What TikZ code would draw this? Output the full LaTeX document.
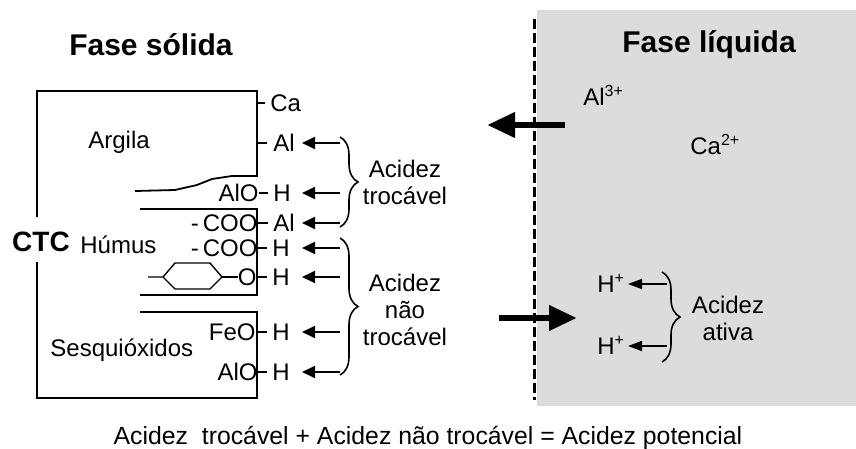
\documentclass[tikz,border=0pt]{standalone}
\usepackage{fontspec}
\setmainfont{Liberation Sans}
\usetikzlibrary{arrows.meta,decorations.pathreplacing}
\definecolor{liquidgray}{HTML}{DCDCDC}

\begin{document}
\begin{tikzpicture}[x=0.5pt,y=-0.5pt,
		every node/.style={inner sep=0pt,font=\fontsize{12}{13.5}\selectfont},
		lbl/.style={text height=8.6pt,text depth=0pt},
		phase/.style={font=\fontsize{15}{18}\selectfont\bfseries},
		wall/.style={line width=0.9pt},
		bond/.style={line width=0.9pt},
		shortarrow/.style={line width=0.9pt,-{Triangle[length=6.5pt,width=6pt]}},
		fluxarrow/.style={line width=3.4pt,-{Triangle[length=14pt,width=12pt]}},
		acid/.style={decorate,decoration={brace,amplitude=9pt},line width=0.8pt}]
	\useasboundingbox (0,0) rectangle (856,449);
	% fase liquida
	\fill[liquidgray] (537,10) rectangle (856,406);
	\draw[line width=1.5pt,dash pattern=on 5pt off 2pt] (534.5,19) -- (534.5,400);
	\node[phase] (solida) at (151,45) {Fase sólida};
	\node[phase] (liquida) at (709,45) {Fase líquida};
	% fase solida: argila, humus, sesquioxidos
	\coordinate (edge) at (257,91);
	\draw[wall] (37,217) -- (37,91) -- (257,91) -- (257,176) -- (232,176) -- (212,179) -- (197,185) -- (175,190) -- (135,191);
	\draw[wall] (140,209) -- (257,209) -- (257,295) -- (140,295);
	\draw[wall] (37,262) -- (37,398) -- (257,398) -- (257,312) -- (140,312);
	\draw[line width=0.7pt] (148,277) -- (163,277) -- (175,263) -- (210,263) -- (222,277) -- (210,289) -- (175,289) -- (163,277);
	\node[font=\fontsize{14}{16}\selectfont\bfseries] (ctc) at (41,242) {CTC};
	\node[lbl,anchor=west] (argila) at (88,140) {Argila};
	\node[lbl,anchor=west] (humus) at (80,245) {Húmus};
	\node[lbl,anchor=west] (sesq) at (50,348) {Sesquióxidos};
	% grupos da superficie
	\node[lbl,anchor=east] (alo1) at (259,193) {AlO};
	\node[lbl,anchor=east] (coo1) at (258,223) {-\,COO};
	\node[lbl,anchor=east] (coo2) at (258,248) {-\,COO};
	\node[lbl,anchor=east] (o) at (257,277) {O};
	\node[lbl,anchor=east] (feo) at (256,332) {FeO};
	\node[lbl,anchor=east] (alo2) at (258,372) {AlO};
	\node[lbl,anchor=west] (ca) at (270,103) {Ca};
	\node[lbl,anchor=west] (al1) at (273,143) {Al};
	\node[lbl,anchor=west] (h1) at (273,193) {H};
	\node[lbl,anchor=west] (al2) at (273,223) {Al};
	\node[lbl,anchor=west] (h2) at (272,248) {H};
	\node[lbl,anchor=west] (h3) at (272,277) {H};
	\node[lbl,anchor=west] (h4) at (272,332) {H};
	\node[lbl,anchor=west] (h5) at (272,372) {H};
	\draw[line width=0.7pt] (222,277) -- (o.west);
	\draw[bond,shorten >=2.5pt] (ca.west -| edge) -- (ca.west);
	\draw[bond,shorten >=3pt] (al1.west -| edge) -- (al1.west);
	\draw[bond,shorten >=2.5pt] (alo1.east) -- (h1.west);
	\draw[bond,shorten >=2.5pt] (coo1.east) -- (al2.west);
	\draw[bond,shorten >=2.5pt] (coo2.east) -- (h2.west);
	\draw[bond,shorten >=2.5pt] (o.east) -- (h3.west);
	\draw[bond,shorten >=2.5pt] (feo.east) -- (h4.west);
	\draw[bond,shorten >=2.5pt] (alo2.east) -- (h5.west);
	\coordinate (tail) at (340,0);
	\coordinate (tip) at (302,0);
	\foreach \n in {al1,h1,al2,h2,h3,h4,h5}
		\draw[shortarrow] (\n.east -| tail) -- (\n.east -| tip);
	\draw[acid] (340,137) -- (340,227);
	\draw[acid] (340,238) -- (340,375);
	\node[align=center] (troc) at (405,182) {Acidez\\trocável};
	\node[align=center] (naotroc) at (405,310) {Acidez\\não\\trocável};
	% ions na solucao
	\node[lbl,anchor=west] (al3) at (583,97) {Al\textsuperscript{3+}};
	\node[lbl,anchor=west] (ca2) at (690,146) {Ca\textsuperscript{2+}};
	\node[lbl,anchor=west] (hp1) at (597,284) {H\textsuperscript{+}};
	\node[lbl,anchor=west] (hp2) at (597,346) {H\textsuperscript{+}};
	\coordinate (htail) at (667,0);
	\coordinate (htip) at (628,0);
	\foreach \n in {hp1,hp2}
		\draw[line width=0.8pt,-{Triangle[length=7pt,width=5pt]}] (\n.east -| htail) -- (\n.east -| htip);
	\draw[acid] (662,272) -- (662,362);
	\node[align=center] (ativa) at (728,318) {Acidez\\ativa};
	% trocas entre as fases
	\coordinate (outtail) at (565,125);
	\coordinate (outtip) at (487,125);
	\coordinate (intail) at (499,318);
	\coordinate (intip) at (577,318);
	\draw[fluxarrow] (outtail) -- (outtip);
	\draw[fluxarrow] (intail) -- (intip);
	\node[lbl,font=\fontsize{12.4}{14}\selectfont] (potencial) at (428,436) {Acidez~ trocável + Acidez não trocável = Acidez potencial};
\end{tikzpicture}
\end{document}
